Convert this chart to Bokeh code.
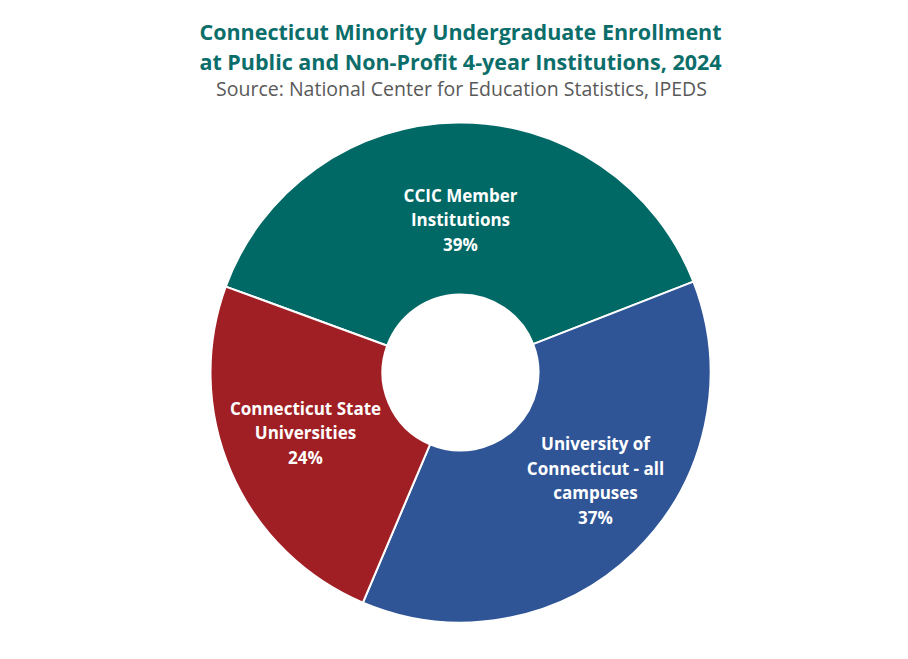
import math
from bokeh.plotting import figure
from bokeh.models import Range1d, ColumnDataSource
from bokeh.core.properties import value
from bokeh.embed import file_html
from bokeh.resources import INLINE

# ---- data ----
categories = ["CCIC Member Institutions", "University of Connecticut - all campuses", "Connecticut State Universities"]
shares = [38.5, 37.3, 24.2]
pct_labels = ["39%", "37%", "24%"]
label_lines = [["CCIC Member", "Institutions"], ["University of", "Connecticut - all", "campuses"], ["Connecticut State", "Universities"]]
colors = ["#006865", "#2F5597", "#A01F24"]

title_lines = ["Connecticut Minority Undergraduate Enrollment", "at Public and Non-Profit 4-year Institutions, 2024"]
subtitle = "Source: National Center for Education Statistics, IPEDS"

W, H = 908, 659
FONT = "Open Sans"

p = figure(width=W, height=H, x_range=Range1d(0, W), y_range=Range1d(0, H),
           output_backend="svg", toolbar_location=None, min_border=0)
p.axis.visible = False
p.grid.visible = False
p.outline_line_color = None
p.background_fill_color = "white"
p.border_fill_color = "white"

cx, cy = 460, H - 372
R_out, R_in = 250, 78
start_deg = 159.9

total = sum(shares)
starts, ends = [], []
cum = 0.0
for s in shares:
    a_hi = math.radians(start_deg) - cum / total * 2 * math.pi
    cum += s
    a_lo = math.radians(start_deg) - cum / total * 2 * math.pi
    starts.append(a_lo)
    ends.append(a_hi)

src = ColumnDataSource(dict(x=[cx] * 3, y=[cy] * 3, start=starts, end=ends, color=colors, cat=categories))
p.annular_wedge(x="x", y="y", inner_radius=R_in, outer_radius=R_out, start_angle="start", end_angle="end",
                fill_color="color", line_color="white", line_width=2, source=src)

# label anchors (pixel offsets from centre, screen-down positive; layout only)
label_centers = [(0, -153), (135, 108), (-155, 60)]
line_gap = 24.5
for (dx, dy), lines, pct in zip(label_centers, label_lines, pct_labels):
    all_lines = lines + [pct]
    n = len(all_lines)
    for i, t in enumerate(all_lines):
        py = (cy - dy) - (i - (n - 1) / 2) * line_gap
        p.text(x=[cx + dx], y=[py], text=[t], text_align="center", text_baseline="middle",
               text_color="white", text_font=value(FONT), text_font_style="bold", text_font_size="17px")

for i, t in enumerate(title_lines):
    p.text(x=[W / 2 + 6], y=[H - (31 + 30 * i)], text=[t], text_align="center", text_baseline="middle",
           text_color="#0B6E6A", text_font=value(FONT), text_font_style="bold", text_font_size="21.5px")
p.text(x=[W / 2 + 7], y=[H - 88], text=[subtitle], text_align="center", text_baseline="middle",
       text_color="#595959", text_font=value(FONT), text_font_size="19.5px")

open("out.html", "w").write(file_html(p, INLINE))
